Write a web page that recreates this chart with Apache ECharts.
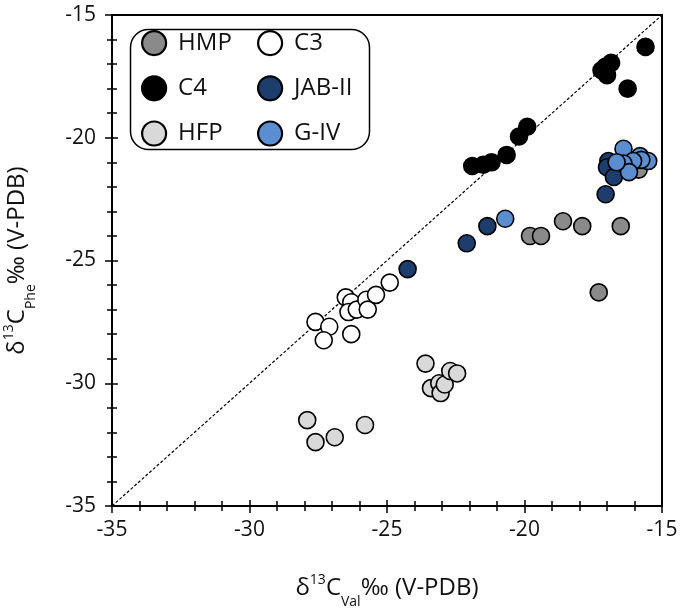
<!DOCTYPE html>
<html>
<head>
<meta charset="utf-8">
<script src="https://cdn.jsdelivr.net/npm/echarts@6/dist/echarts.min.js"></script>
<style>
  html, body { margin: 0; padding: 0; background: #fff; }
  #chart { width: 680px; height: 610px; }
</style>
</head>
<body>
<div id="chart"></div>
<script>
// [d13C Val, d13C Phe] per group
const hmp = [[-19.8, -24.0], [-19.4, -24.0], [-18.6, -23.4], [-17.9, -23.6], [-16.5, -23.6], [-17.3, -26.3], [-15.85, -21.3]];
const c3 = [[-26.5, -26.5], [-26.3, -26.7], [-26.4, -27.1], [-26.1, -27.0], [-25.75, -26.6], [-25.7, -27.0],
            [-25.4, -26.4], [-24.9, -25.9], [-27.6, -27.5], [-27.1, -27.7], [-27.3, -28.25], [-26.3, -28.0]];
const c4 = [[-15.6, -16.3], [-16.85, -16.95], [-17.05, -17.1], [-17.2, -17.25], [-17.0, -17.45], [-16.25, -18.0],
            [-19.9, -19.55], [-20.2, -19.95], [-20.65, -20.7], [-21.2, -21.0], [-21.5, -21.1], [-21.9, -21.15]];
const jab = [[-16.95, -20.95], [-17.0, -21.2], [-16.75, -21.6], [-17.05, -22.3], [-21.35, -23.6], [-22.1, -24.3], [-24.25, -25.35]];
const hfp = [[-27.9, -31.5], [-27.6, -32.4], [-26.9, -32.2], [-25.8, -31.7], [-23.6, -29.2], [-23.4, -30.2],
             [-23.1, -30.0], [-23.05, -30.4], [-22.9, -30.05], [-22.7, -29.5], [-22.45, -29.6]];
const giv = [[-16.4, -20.45], [-15.8, -20.75], [-15.5, -20.95], [-15.75, -20.9], [-16.05, -20.95], [-16.4, -21.05],
             [-16.2, -21.4], [-16.65, -21.0], [-20.7, -23.3]];
const oneToOne = [[-35, -35], [-15, -15]];

const axisMin = -35, axisMax = -15, axisStep = 5;

const FONT = '"Open Sans", sans-serif';
const chart = echarts.init(document.getElementById('chart'));

const nameRich = {
  d: { fontSize: 24, lineHeight: 30, verticalAlign: 'middle', fontFamily: FONT, color: '#111' },
  sup: { fontSize: 14, lineHeight: 14, verticalAlign: 'top', fontFamily: FONT, color: '#111' },
  sub: { fontSize: 14, lineHeight: 12, verticalAlign: 'bottom', fontFamily: FONT, color: '#111', padding: [0, 0, -6, 0] }
};

function scatter(name, data, color) {
  return {
    name: name,
    type: 'scatter',
    data: data,
    symbol: 'circle',
    symbolSize: 17,
    itemStyle: { color: color, borderColor: '#000', borderWidth: 1.6, opacity: 1 },
    xAxisIndex: 0, yAxisIndex: 0,
    z: 3
  };
}

function valueAxis(extra) {
  return Object.assign({
    type: 'value', min: axisMin, max: axisMax, interval: axisStep,
    splitLine: { show: false },
    axisLine: { show: true, onZero: false, lineStyle: { color: '#000', width: 2 } },
    axisTick: { show: true, inside: false, length: 7, lineStyle: { color: '#000', width: 1.5 } },
    minorTick: { show: true, splitNumber: 5, length: 5, lineStyle: { color: '#000', width: 1.5 } },
    axisLabel: { fontSize: 21, fontFamily: FONT, color: '#111' }
  }, extra);
}

const legendCommon = {
  orient: 'vertical',
  top: 30,
  padding: 0,
  itemWidth: 24,
  itemHeight: 24,
  itemGap: 19,
  icon: 'circle',
  itemStyle: { borderColor: '#000', borderWidth: 2.2 },
  textStyle: { fontSize: 24, fontFamily: FONT, color: '#111', padding: [0, 0, 0, 7] }
};

chart.setOption({
  animation: false,
  backgroundColor: '#fff',
  grid: {
    left: 112, right: 18, top: 15, bottom: 104, outerBoundsMode: 'none',
    show: true, borderColor: '#000', borderWidth: 2, backgroundColor: 'transparent'
  },
  legend: [
    Object.assign({}, legendCommon, { left: 141, data: ['HMP', 'C4', 'HFP'] }),
    Object.assign({}, legendCommon, { left: 257, data: ['C3', 'JAB-II', 'G-IV'] })
  ],
  graphic: [{
    type: 'rect', left: 128, top: 27, z: 10,
    shape: { width: 239, height: 120, r: 18 },
    style: { fill: 'none', stroke: '#000', lineWidth: 1.5 }
  }],
  xAxis: [
    valueAxis({
      position: 'bottom',
      axisLabel: { fontSize: 21, fontFamily: FONT, color: '#111', margin: 14 },
      name: '{d|δ}{sup|13}{d|C}{sub|Val}{d|‰ (V-PDB)}',
      nameLocation: 'middle', nameGap: 67,
      nameTextStyle: { rich: nameRich }
    }),
    valueAxis({
      position: 'bottom',
      axisLine: { show: false },
      axisLabel: { show: false },
      axisTick: { show: true, inside: true, length: 6, lineStyle: { color: '#000', width: 1.5 } },
      minorTick: { show: true, splitNumber: 5, length: 5, lineStyle: { color: '#000', width: 1.5 } }
    })
  ],
  yAxis: [
    valueAxis({
      position: 'left',
      axisLabel: { fontSize: 21, fontFamily: FONT, color: '#111', margin: 16 },
      name: '{d|δ}{sup|13}{d|C}{sub|Phe}{d|‰ (V-PDB)}',
      nameLocation: 'middle', nameGap: 80, nameRotate: 90,
      nameTextStyle: { rich: nameRich }
    }),
    valueAxis({
      position: 'left',
      axisLine: { show: false },
      axisLabel: { show: false },
      axisTick: { show: true, inside: true, length: 6, lineStyle: { color: '#000', width: 1.5 } },
      minorTick: { show: true, splitNumber: 5, length: 5, lineStyle: { color: '#000', width: 1.5 } }
    })
  ],
  series: [
    {
      name: '1:1', type: 'line', data: oneToOne, symbol: 'none', silent: true,
      lineStyle: { color: '#000', width: 1.2, type: [3, 2] }, z: 2
    },
    scatter('HMP', hmp, '#8a8a8a'),
    scatter('C3', c3, '#ffffff'),
    scatter('C4', c4, '#000000'),
    scatter('HFP', hfp, '#d9d9d9'),
    scatter('JAB-II', jab, '#1d3e6c'),
    scatter('G-IV', giv, '#5b8dd1')
  ]
});
</script>
</body>
</html>
